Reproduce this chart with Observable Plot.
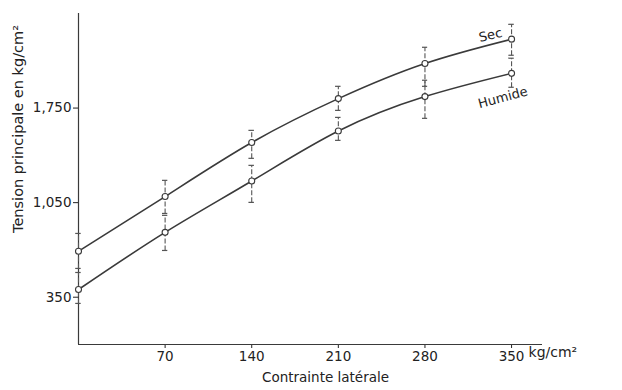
<!DOCTYPE html>
<html>
<head>
<meta charset="utf-8">
<script src="https://cdn.jsdelivr.net/npm/d3@7"></script>
<script src="https://cdn.jsdelivr.net/npm/@observablehq/plot@0.6"></script>
<style>
  body { margin: 0; background: #fff; }
  #chart svg { display: block; }
</style>
</head>
<body>
<div id="chart"></div>
<script>
// Lateral stress (kg/cm²)
const lateral = [0, 70, 140, 210, 280, 350];
// "Sec" series: mean and error-bar extremes
const sec   = [690, 1095, 1495, 1820, 2080, 2260];
const secLo = [563, 970, 1378, 1733, 1911, 2141];
const secHi = [822, 1215, 1585, 1911, 2200, 2370];
// "Humide" series: mean and error-bar extremes
const hum   = [407, 830, 1210, 1580, 1835, 2007];
const humLo = [304, 696, 1052, 1511, 1674, 1904];
const humHi = [533, 956, 1326, 1681, 1956, 2119];

const xTicks = [70, 140, 210, 280, 350];
const yTicks = [350, 1050, 1750];
const xUnit = "kg/cm²";
const xTitle = "Contrainte latérale";
const yTitle = "Tension principale en kg/cm²";
const seriesNames = ["Sec", "Humide"];
const labelAt = [{x: 333, y: 2215}, {x: 343, y: 1990}];

const rows = [];
lateral.forEach((x, i) => {
  rows.push({series: "Sec", x, y: sec[i], lo: secLo[i], hi: secHi[i]});
  rows.push({series: "Humide", x, y: hum[i], lo: humLo[i], hi: humHi[i]});
});

const ink = "#3a3a3a";
const font = "DejaVu Sans, sans-serif";

const chart = Plot.plot({
  width: 622,
  height: 390,
  marginLeft: 78,
  marginRight: 80,
  marginTop: 13,
  marginBottom: 46,
  style: {fontFamily: font, fontSize: "13.5px", color: "#222", background: "#fff"},
  x: {domain: [0, 375], ticks: xTicks, tickSize: 4, tickPadding: 3, label: null, tickFormat: d => String(d)},
  y: {domain: [0, 2450], ticks: yTicks, tickSize: 5, tickPadding: 2, label: null, tickFormat: d3.format(",")},
  marks: [
    Plot.ruleX([0], {stroke: ink, strokeWidth: 1.2}),
    Plot.ruleY([0], {stroke: ink, strokeWidth: 1.2}),
    Plot.link(rows, {
      x1: "x", x2: "x", y1: "lo", y2: "hi",
      stroke: "#555", strokeWidth: 1.1, strokeDasharray: "5,2",
      markerStart: "tick", markerEnd: "tick"
    }),
    Plot.line(rows, {x: "x", y: "y", z: "series", curve: "natural", stroke: ink, strokeWidth: 1.6}),
    Plot.dot(rows, {x: "x", y: "y", r: 3, fill: "#fff", stroke: ink, strokeWidth: 1.1}),
    Plot.text([seriesNames[0]], {
      x: labelAt[0].x, y: labelAt[0].y, dy: -10, rotate: -13,
      fontSize: 13, fill: "#222"
    }),
    Plot.text([seriesNames[1]], {
      x: labelAt[1].x, y: labelAt[1].y, dy: 22, rotate: -15,
      fontSize: 13, fill: "#222"
    }),
    Plot.text([xUnit], {
      x: 350, frameAnchor: "bottom", dy: 12, dx: 17, textAnchor: "start",
      fontSize: 14, fill: "#222"
    }),
    Plot.text([xTitle], {
      frameAnchor: "bottom", dy: 37, dx: 15,
      fontSize: 13.5, fill: "#222"
    }),
    Plot.text([yTitle], {
      frameAnchor: "left", dx: -60, dy: -50, rotate: -90, textAnchor: "middle",
      fontSize: 14.5, fill: "#222"
    })
  ]
});

document.getElementById("chart").appendChild(chart);
</script>
</body>
</html>
